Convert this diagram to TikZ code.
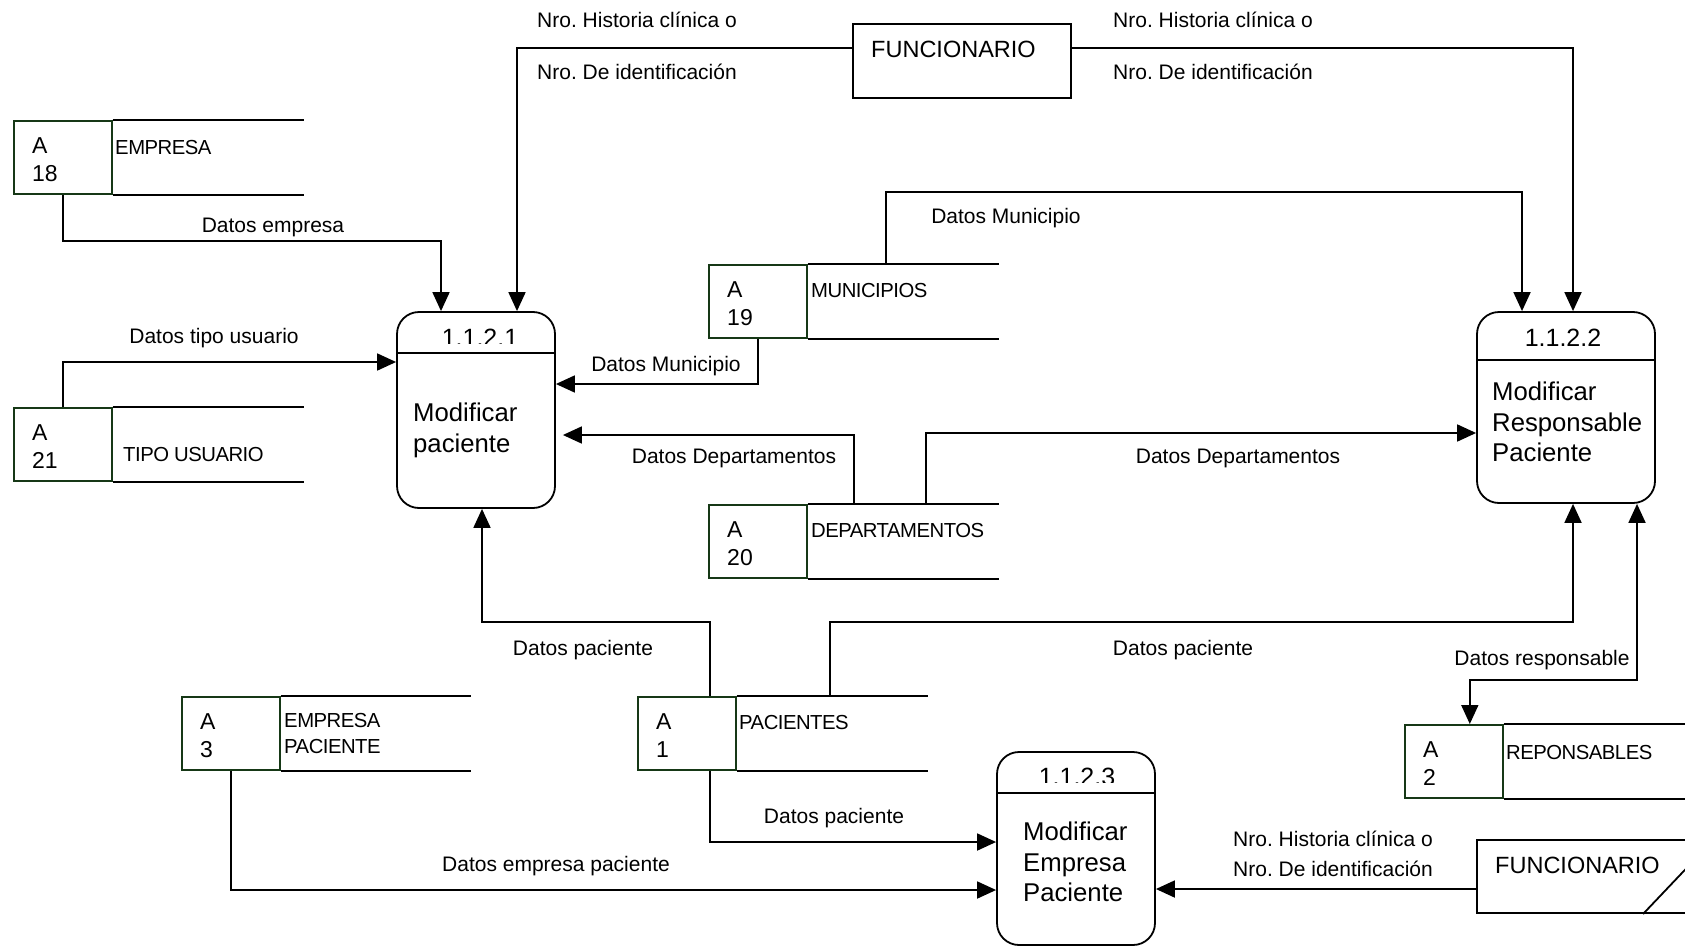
\documentclass[tikz,border=0pt]{standalone}
\usepackage{fontspec}
\setmainfont{Liberation Sans}
\newfontfamily\storefont[LetterSpace=-2.5]{Liberation Sans}
\usetikzlibrary{arrows.meta}
\definecolor{storegreen}{RGB}{22,56,22}
\frenchspacing

% data store: name, top-left corner, number, length of the open lines
\newcommand{\dfdstore}[4]{%
  \node[storebox] (#1) at (#2) {};
  \draw[storeline] (#1.north east) -- ++(#4,0) (#1.south east) -- ++(#4,0);
  \node[sid] (#1-a) at ([xshift=19pt,yshift=-25pt]#1.north west) {A};
  \node[sid] (#1-n) at ([xshift=19pt,yshift=-53pt]#1.north west) {#3};
}

\begin{document}
\begin{tikzpicture}[x=1pt,y=-1pt,
  proc/.style={draw, line width=1.8pt, rounded corners=22pt, inner sep=0pt},
  storebox/.style={draw=storegreen, line width=1.6pt, minimum width=98pt, minimum height=73pt, inner sep=0pt, anchor=north west},
  storeline/.style={line width=1.8pt},
  extent/.style={draw, line width=1.8pt, inner sep=0pt},
  rule/.style={line width=1.8pt},
  flow/.style={line width=1.8pt, -{Triangle[length=19pt,width=17pt]}},
  lbl/.style={font=\fontsize{21}{25}\selectfont, inner sep=0pt, text height=15pt, text depth=0pt},
  slbl/.style={font=\storefont\fontsize{20.3}{24}\selectfont, inner sep=0pt, text height=14.5pt, text depth=0pt, anchor=west},
  sid/.style={font=\fontsize{23}{27}\selectfont, inner sep=0pt, text height=16.5pt, text depth=0pt, anchor=west},
  ptitle/.style={font=\fontsize{25.7}{30.5}\selectfont, inner sep=0pt, align=left, anchor=north west},
  pnum/.style={font=\fontsize{25}{30}\selectfont, inner sep=0pt, text height=18pt, text depth=0pt},
  ename/.style={font=\fontsize{23.5}{28}\selectfont, inner sep=0pt, text height=17pt, text depth=0pt, anchor=west},
]
\useasboundingbox (0,0) rectangle (1685,947);
\fill[white] (0,0) rectangle (1685,947);
\clip (0,0) rectangle (1685,947);

% ---- processes
\node[proc, minimum width=158pt, minimum height=196pt] (p1) at (476,410) {};
\draw[rule] ([yshift=57pt]p1.west) -- ([yshift=57pt]p1.east);
\begin{scope}
  \clip (400,320) rectangle (553,343);
  \node[pnum] (p1-n) at (480,337) {1.1.2.1};
\end{scope}
\node[ptitle] (p1-t) at (413,403) {Modificar\\paciente};

\node[proc, minimum width=178pt, minimum height=191pt] (p2) at (1566,407.5) {};
\draw[rule] ([yshift=47.5pt]p2.west) -- ([yshift=47.5pt]p2.east);
\node[pnum] (p2-n) at (1563,337) {1.1.2.2};
\node[ptitle] (p2-t) at (1492,382) {Modificar\\Responsable\\Paciente};

\node[proc, minimum width=158pt, minimum height=193pt] (p3) at (1076,848.5) {};
\draw[rule] ([yshift=55.5pt]p3.west) -- ([yshift=55.5pt]p3.east);
\begin{scope}
  \clip (1000,755) rectangle (1150,782);
  \node[pnum] (p3-n) at (1077,776) {1.1.2.3};
\end{scope}
\node[ptitle] (p3-t) at (1023,822) {Modificar\\Empresa\\Paciente};

% ---- external entities
\node[extent, minimum width=218pt, minimum height=74pt] (f1) at (962,61) {};
\node[ename] (f1-t) at (871,49) {FUNCIONARIO};
\node[extent, minimum width=243pt, minimum height=73pt] (f2) at (1598.5,876.5) {};
\node[ename] (f2-t) at (1495,865) {FUNCIONARIO};
\draw[rule] ([xshift=167pt]f2.south west) -- ++(56,-59);

% ---- data stores
\dfdstore{s18}{13,120}{18}{191}
\dfdstore{s21}{13,407}{21}{191}
\dfdstore{s19}{708,264}{19}{191}
\dfdstore{s20}{708,504}{20}{191}
\dfdstore{s3}{181,696}{3}{190}
\dfdstore{s1}{637,696}{1}{191}
\dfdstore{s2}{1404,724}{2}{300}

\node[slbl] (s18-t) at (115,147) {EMPRESA};
\node[slbl] (s21-t) at (123,454) {TIPO USUARIO};
\node[slbl] (s19-t) at (811,290) {MUNICIPIOS};
\node[slbl] (s20-t) at (811,530) {DEPARTAMENTOS};
\node[slbl] (s3-t1) at (284,720) {EMPRESA};
\node[slbl] (s3-t2) at (284,746) {PACIENTE};
\node[slbl] (s1-t) at (739,722) {PACIENTES};
\node[slbl] (s2-t) at (1506,752) {REPONSABLES};

% ---- data flows
\draw[flow] ([yshift=13pt]f1.west) -| ([xshift=41pt]p1.north);
\draw[flow] ([yshift=13pt]f1.east) -| ([xshift=7pt]p2.north);
\draw[flow] (s18.south) -- ++(0,46) -| ([xshift=-35pt]p1.north);
\draw[flow] (s21.north) |- ([yshift=48pt]p1.west);
\draw[flow] (s19.south) |- ([yshift=26pt]p1.east);
\draw[flow] ([xshift=128pt]s19.north) -- ++(0,-72) -| ([xshift=-44pt]p2.north);
\draw[flow, shorten >=7pt] ([xshift=96pt]s20.north) |- ([yshift=-25pt]p1.east);
\draw[flow] ([xshift=168pt]s20.north) |- ([yshift=-25.5pt]p2.west);
\draw[flow] ([xshift=23pt]s1.north) -- ++(0,-74) -| ([xshift=6pt]p1.south);
\draw[flow] ([xshift=143pt]s1.north) -- ++(0,-74) -| ([xshift=7pt]p2.south);
\draw[flow, {Triangle[length=19pt,width=17pt]}-{Triangle[length=19pt,width=17pt]}]
  ([xshift=71pt]p2.south) -- ++(0,176) -| ([xshift=16pt]s2.north);
\draw[flow] ([xshift=23pt]s1.south) |- ([yshift=6.5pt]p3.west);
\draw[flow] (s3.south) |- ([yshift=-41.5pt]p3.west);
\draw[flow] ([yshift=-12.5pt]f2.west) -- ([yshift=-40.5pt]p3.east);

% ---- flow labels
\node[lbl] (l1) at (637,20) {Nro. Historia clínica o};
\node[lbl] (l2) at (637,72) {Nro. De identificación};
\node[lbl] (l3) at (1213,20) {Nro. Historia clínica o};
\node[lbl] (l4) at (1213,72) {Nro. De identificación};
\node[lbl] (l5) at (273,225) {Datos empresa};
\node[lbl] (l6) at (214,336) {Datos tipo usuario};
\node[lbl] (l7) at (666,364) {Datos Municipio};
\node[lbl] (l8) at (1006,216) {Datos Municipio};
\node[lbl] (l9) at (734,456) {Datos Departamentos};
\node[lbl] (l10) at (1238,456) {Datos Departamentos};
\node[lbl] (l11) at (583,648) {Datos paciente};
\node[lbl] (l12) at (1183,648) {Datos paciente};
\node[lbl] (l13) at (1542,658) {Datos responsable};
\node[lbl] (l14) at (834,816) {Datos paciente};
\node[lbl] (l15) at (556,864) {Datos empresa paciente};
\node[lbl] (l16) at (1333,839) {Nro. Historia clínica o};
\node[lbl] (l17) at (1333,869) {Nro. De identificación};
\end{tikzpicture}
\end{document}
